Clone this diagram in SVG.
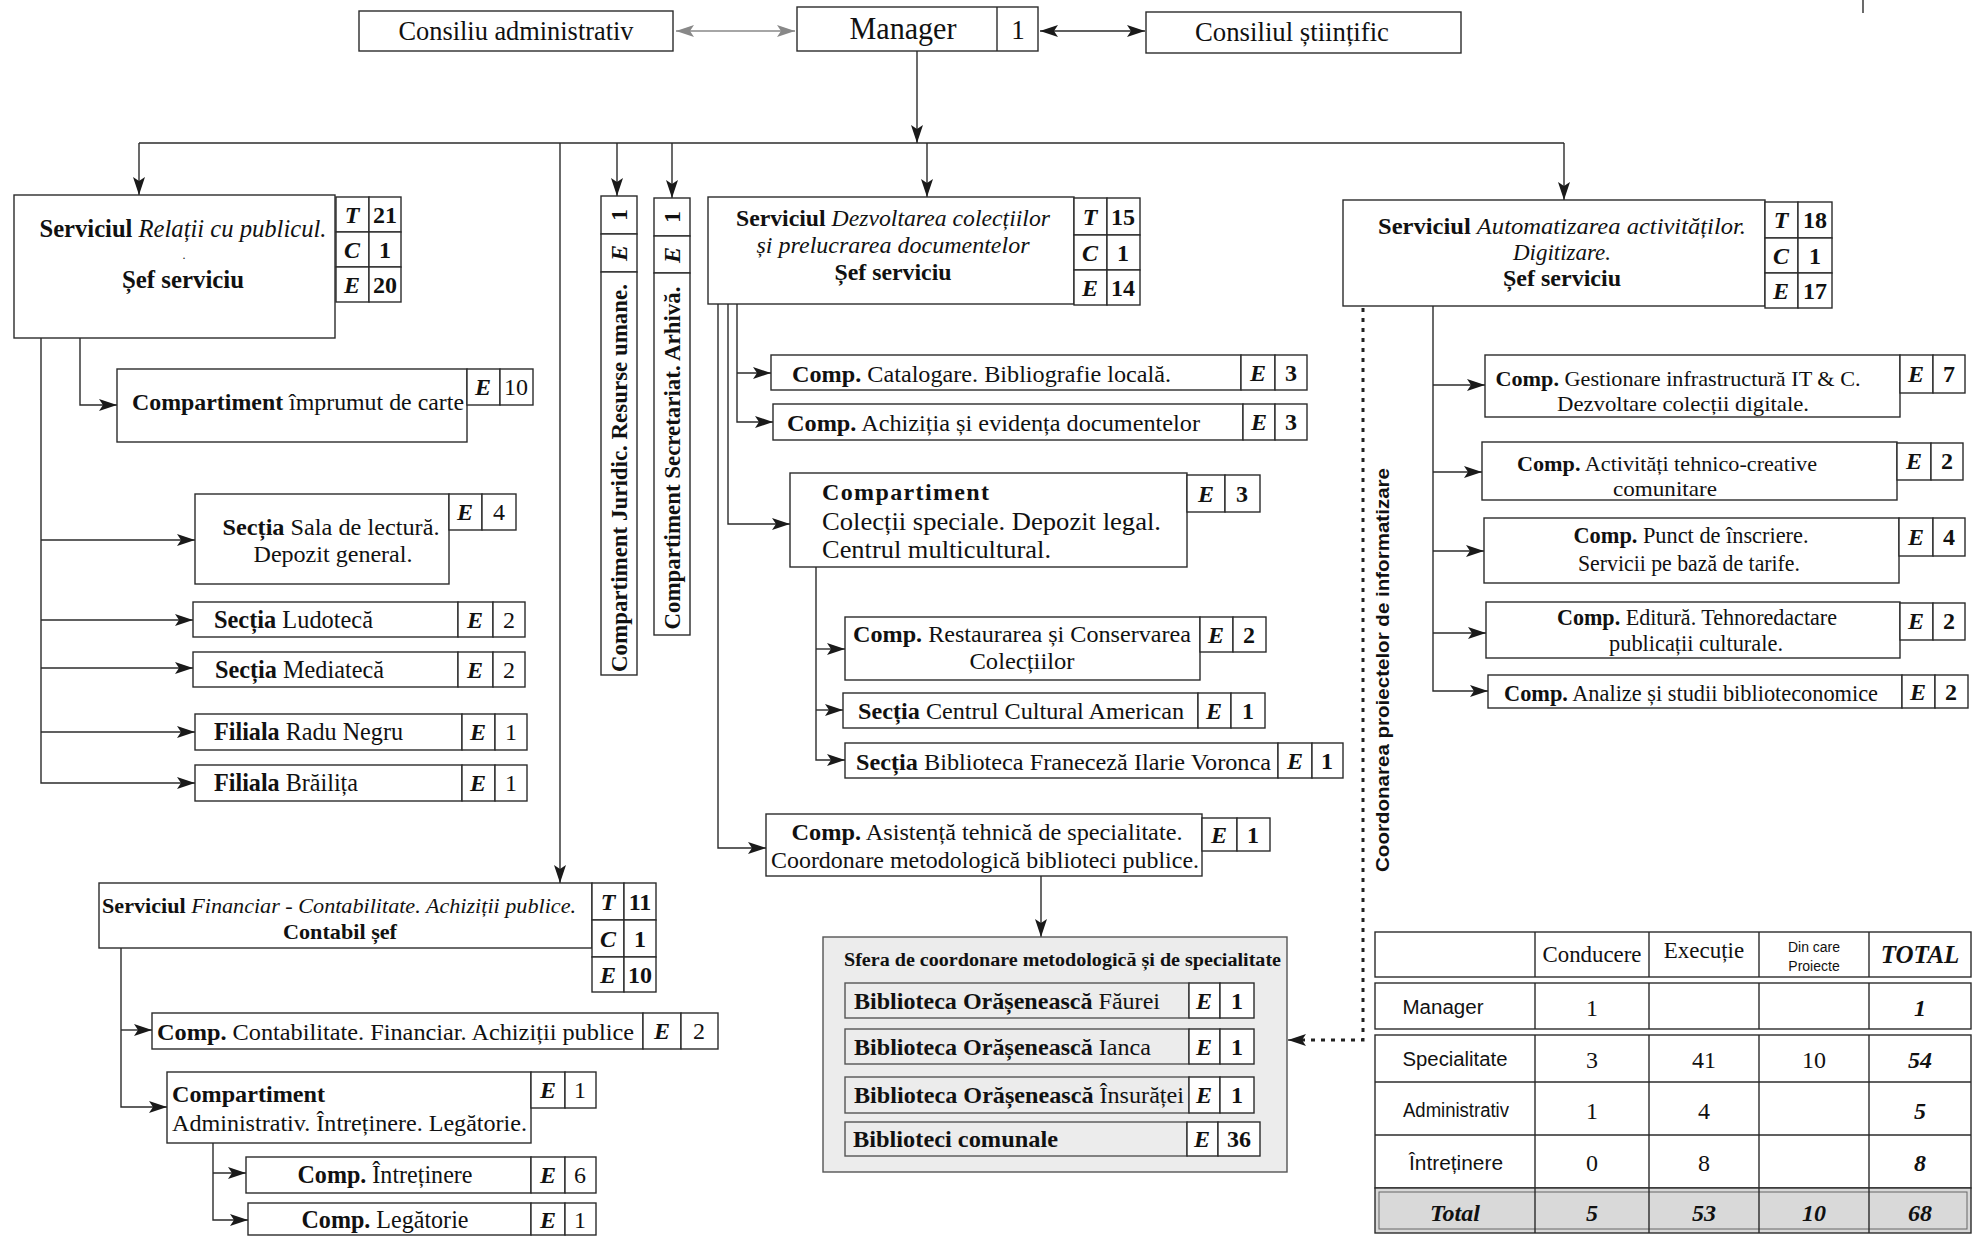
<svg xmlns="http://www.w3.org/2000/svg" width="1982" height="1236" viewBox="0 0 1982 1236">
<style>
.b{fill:#fff;stroke:#2b2b2b;stroke-width:1.4}
.g{fill:#ececec;stroke:#555;stroke-width:1.4}
.ln{fill:none;stroke:#2b2b2b;stroke-width:1.4}
.dot{fill:none;stroke:#222;stroke-width:3;stroke-dasharray:4 6}
text{font-family:"Liberation Serif","Times New Roman",serif;font-size:24px;fill:#111}
.bd{font-weight:bold}
.it{font-style:italic}
.c{font-weight:bold;font-style:italic;text-anchor:middle}
.n{text-anchor:middle}
.nb{text-anchor:middle;font-weight:bold}
.sans{font-family:"Liberation Sans",Arial,sans-serif;font-size:19px}
</style>
<defs>
<marker id="ah" viewBox="0 0 18 12" refX="18" refY="6" markerWidth="18" markerHeight="12" markerUnits="userSpaceOnUse" orient="auto-start-reverse"><path d="M0,0 L18,6 L0,12 L4,6 z" fill="#1a1a1a"/></marker>
<marker id="ahg" viewBox="0 0 18 12" refX="18" refY="6" markerWidth="18" markerHeight="12" markerUnits="userSpaceOnUse" orient="auto-start-reverse"><path d="M0,0 L18,6 L0,12 L4,6 z" fill="#888"/></marker>
</defs>
<rect width="1982" height="1236" fill="#fff"/>
<line x1="1863" y1="0" x2="1863" y2="13" class="ln"/>

<g id="connectors">
<line x1="676" y1="31" x2="795" y2="31" stroke="#888" stroke-width="1.6" marker-start="url(#ahg)" marker-end="url(#ahg)"/>
<line x1="1040" y1="31" x2="1145" y2="31" class="ln" marker-start="url(#ah)" marker-end="url(#ah)"/>
<line x1="917" y1="51" x2="917" y2="143" class="ln" marker-end="url(#ah)"/>
<line x1="139" y1="143" x2="1564" y2="143" class="ln"/>
<line x1="139" y1="143" x2="139" y2="195" class="ln" marker-end="url(#ah)"/>
<line x1="560" y1="143" x2="560" y2="883" class="ln" marker-end="url(#ah)"/>
<line x1="617" y1="143" x2="617" y2="196" class="ln" marker-end="url(#ah)"/>
<line x1="672" y1="143" x2="672" y2="198" class="ln" marker-end="url(#ah)"/>
<line x1="927" y1="143" x2="927" y2="197" class="ln" marker-end="url(#ah)"/>
<line x1="1564" y1="143" x2="1564" y2="200" class="ln" marker-end="url(#ah)"/>
<path d="M80,338 V405 H117" class="ln" marker-end="url(#ah)"/>
<path d="M41,338 V783 H195" class="ln" marker-end="url(#ah)"/>
<line x1="41" y1="540" x2="195" y2="540" class="ln" marker-end="url(#ah)"/>
<line x1="41" y1="620" x2="193" y2="620" class="ln" marker-end="url(#ah)"/>
<line x1="41" y1="668" x2="193" y2="668" class="ln" marker-end="url(#ah)"/>
<line x1="41" y1="732" x2="195" y2="732" class="ln" marker-end="url(#ah)"/>
<path d="M737,304 V422 H773" class="ln" marker-end="url(#ah)"/>
<line x1="737" y1="373" x2="771" y2="373" class="ln" marker-end="url(#ah)"/>
<path d="M728,304 V524 H790" class="ln" marker-end="url(#ah)"/>
<path d="M718,304 V848 H766" class="ln" marker-end="url(#ah)"/>
<path d="M816,567 V760 H845" class="ln" marker-end="url(#ah)"/>
<line x1="816" y1="649" x2="845" y2="649" class="ln" marker-end="url(#ah)"/>
<line x1="816" y1="710" x2="843" y2="710" class="ln" marker-end="url(#ah)"/>
<line x1="1041" y1="876" x2="1041" y2="937" class="ln" marker-end="url(#ah)"/>
<path d="M1433,306 V691 H1488" class="ln" marker-end="url(#ah)"/>
<line x1="1433" y1="385" x2="1485" y2="385" class="ln" marker-end="url(#ah)"/>
<line x1="1433" y1="472" x2="1482" y2="472" class="ln" marker-end="url(#ah)"/>
<line x1="1433" y1="551" x2="1484" y2="551" class="ln" marker-end="url(#ah)"/>
<line x1="1433" y1="633" x2="1486" y2="633" class="ln" marker-end="url(#ah)"/>
<path d="M1363,308 V1040 H1300" class="dot"/>
<line x1="1302" y1="1040" x2="1288" y2="1040" class="ln" marker-end="url(#ah)"/>
<path d="M121,948 V1107 H167" class="ln" marker-end="url(#ah)"/>
<line x1="121" y1="1030" x2="152" y2="1030" class="ln" marker-end="url(#ah)"/>
<path d="M213,1143 V1220 H248" class="ln" marker-end="url(#ah)"/>
<line x1="213" y1="1173" x2="246" y2="1173" class="ln" marker-end="url(#ah)"/>
<text transform="translate(1389,670) rotate(-90)" class="nb" style="font-family:'Liberation Sans',Arial,sans-serif;font-size:19px" textLength="404" lengthAdjust="spacingAndGlyphs">Coordonarea proiectelor de informatizare</text>
</g>

<g id="consiliu-administrativ">
<rect x="359" y="11" width="314" height="40" class="b"/>
<text x="516" y="40" class="n" style="font-size:27px" textLength="235" lengthAdjust="spacingAndGlyphs">Consiliu administrativ</text>
</g>
<g id="manager">
<rect x="797" y="7" width="241" height="44" class="b"/>
<line x1="997" y1="7" x2="997" y2="51" class="ln"/>
<text x="903" y="39" class="n" style="font-size:31px" textLength="107" lengthAdjust="spacingAndGlyphs">Manager</text>
<text x="1018" y="39" class="n" style="font-size:27px">1</text>
</g>
<g id="consiliul-stiintific">
<rect x="1146" y="12" width="315" height="41" class="b"/>
<text x="1292" y="41" class="n" style="font-size:27px" textLength="194" lengthAdjust="spacingAndGlyphs">Consiliul științific</text>
</g>

<g id="relatii">
<rect x="14" y="195" width="321" height="143" class="b"/>
<text x="183" y="237" class="n" style="font-size:25px" textLength="287" lengthAdjust="spacingAndGlyphs"><tspan class="bd">Serviciul</tspan> <tspan class="it">Relații cu publicul.</tspan></text>
<text x="184" y="259" class="n" style="font-size:12px">.</text>
<text x="183" y="288" class="nb" style="font-size:25px" textLength="122" lengthAdjust="spacingAndGlyphs">Șef serviciu</text>
<rect x="336" y="197" width="33" height="35" class="b"/><rect x="369" y="197" width="32" height="35" class="b"/>
<rect x="336" y="232" width="33" height="35" class="b"/><rect x="369" y="232" width="32" height="35" class="b"/>
<rect x="336" y="267" width="33" height="35" class="b"/><rect x="369" y="267" width="32" height="35" class="b"/>
<text x="352" y="223" class="c">T</text><text x="385" y="223" class="nb">21</text>
<text x="352" y="258" class="c">C</text><text x="385" y="258" class="nb">1</text>
<text x="352" y="293" class="c">E</text><text x="385" y="293" class="nb">20</text>
</g>
<g id="imprumut">
<rect x="117" y="369" width="350" height="73" class="b"/>
<rect x="467" y="369" width="33" height="36" class="b"/><rect x="500" y="369" width="33" height="36" class="b"/>
<text x="483" y="395" class="c">E</text><text x="516" y="395" class="n">10</text>
<text x="132" y="410" style="font-size:23px" textLength="332" lengthAdjust="spacingAndGlyphs"><tspan class="bd">Compartiment</tspan> împrumut de carte</text>
</g>
<g id="sala-lectura">
<rect x="195" y="494" width="254" height="90" class="b"/>
<rect x="449" y="494" width="33" height="36" class="b"/><rect x="482" y="494" width="34" height="36" class="b"/>
<text x="465" y="520" class="c">E</text><text x="499" y="520" class="n">4</text>
<text x="331" y="535" class="n" style="font-size:24px" textLength="217" lengthAdjust="spacingAndGlyphs"><tspan class="bd">Secția</tspan> Sala de lectură.</text>
<text x="333" y="562" class="n" style="font-size:24px" textLength="159" lengthAdjust="spacingAndGlyphs">Depozit general.</text>
</g>
<g id="ludoteca">
<rect x="193" y="602" width="265" height="35" class="b"/>
<rect x="458" y="602" width="35" height="35" class="b"/><rect x="493" y="602" width="32" height="35" class="b"/>
<text x="475" y="628" class="c">E</text><text x="509" y="628" class="n">2</text>
<text x="214" y="628" style="font-size:25px" textLength="159" lengthAdjust="spacingAndGlyphs"><tspan class="bd">Secția</tspan> Ludotecă</text>
</g>
<g id="mediateca">
<rect x="193" y="652" width="265" height="35" class="b"/>
<rect x="458" y="652" width="35" height="35" class="b"/><rect x="493" y="652" width="32" height="35" class="b"/>
<text x="475" y="678" class="c">E</text><text x="509" y="678" class="n">2</text>
<text x="215" y="678" style="font-size:25px" textLength="169" lengthAdjust="spacingAndGlyphs"><tspan class="bd">Secția</tspan> Mediatecă</text>
</g>
<g id="radu-negru">
<rect x="195" y="714" width="267" height="36" class="b"/>
<rect x="462" y="714" width="33" height="36" class="b"/><rect x="495" y="714" width="32" height="36" class="b"/>
<text x="478" y="740" class="c">E</text><text x="511" y="740" class="n">1</text>
<text x="214" y="740" style="font-size:25px" textLength="189" lengthAdjust="spacingAndGlyphs"><tspan class="bd">Filiala</tspan> Radu Negru</text>
</g>
<g id="brailita">
<rect x="195" y="765" width="267" height="36" class="b"/>
<rect x="462" y="765" width="33" height="36" class="b"/><rect x="495" y="765" width="32" height="36" class="b"/>
<text x="478" y="791" class="c">E</text><text x="511" y="791" class="n">1</text>
<text x="214" y="791" style="font-size:25px" textLength="144" lengthAdjust="spacingAndGlyphs"><tspan class="bd">Filiala</tspan> Brăilița</text>
</g>

<g id="juridic">
<rect x="601" y="196" width="36" height="38" class="b"/>
<rect x="601" y="234" width="36" height="38" class="b"/>
<rect x="601" y="272" width="36" height="403" class="b"/>
<text transform="translate(627,215) rotate(-90)" class="nb">1</text>
<text transform="translate(627,253) rotate(-90)" class="c">E</text>
<text transform="translate(627,478) rotate(-90)" class="nb" style="font-size:23px" textLength="388" lengthAdjust="spacingAndGlyphs">Compartiment Juridic. Resurse umane.</text>
</g>
<g id="secretariat">
<rect x="654" y="198" width="36" height="38" class="b"/>
<rect x="654" y="236" width="36" height="37" class="b"/>
<rect x="654" y="273" width="36" height="362" class="b"/>
<text transform="translate(680,217) rotate(-90)" class="nb">1</text>
<text transform="translate(680,255) rotate(-90)" class="c">E</text>
<text transform="translate(680,458) rotate(-90)" class="nb" style="font-size:23px" textLength="343" lengthAdjust="spacingAndGlyphs">Compartiment Secretariat. Arhivă.</text>
</g>

<g id="dezvoltarea">
<rect x="708" y="197" width="366" height="107" class="b"/>
<rect x="1074" y="198" width="33" height="37" class="b"/><rect x="1107" y="198" width="33" height="37" class="b"/>
<rect x="1074" y="235" width="33" height="35" class="b"/><rect x="1107" y="235" width="33" height="35" class="b"/>
<rect x="1074" y="270" width="33" height="35" class="b"/><rect x="1107" y="270" width="33" height="35" class="b"/>
<text x="1090" y="225" class="c">T</text><text x="1123" y="225" class="nb">15</text>
<text x="1090" y="261" class="c">C</text><text x="1123" y="261" class="nb">1</text>
<text x="1090" y="296" class="c">E</text><text x="1123" y="296" class="nb">14</text>
<text x="893" y="226" class="n" style="font-size:23px" textLength="314" lengthAdjust="spacingAndGlyphs"><tspan class="bd">Serviciul</tspan> <tspan class="it">Dezvoltarea colecțiilor</tspan></text>
<text x="893" y="253" class="n it" style="font-size:23px" textLength="273" lengthAdjust="spacingAndGlyphs">și prelucrarea documentelor</text>
<text x="893" y="280" class="nb" style="font-size:23px" textLength="117" lengthAdjust="spacingAndGlyphs">Șef serviciu</text>
</g>
<g id="catalogare">
<rect x="771" y="355" width="470" height="35" class="b"/>
<rect x="1241" y="355" width="34" height="35" class="b"/><rect x="1275" y="355" width="32" height="35" class="b"/>
<text x="1258" y="381" class="c">E</text><text x="1291" y="381" class="nb">3</text>
<text x="792" y="382" style="font-size:24px" textLength="379" lengthAdjust="spacingAndGlyphs"><tspan class="bd">Comp.</tspan> Catalogare. Bibliografie locală.</text>
</g>
<g id="achizitia">
<rect x="773" y="404" width="470" height="36" class="b"/>
<rect x="1243" y="404" width="32" height="36" class="b"/><rect x="1275" y="404" width="32" height="36" class="b"/>
<text x="1259" y="430" class="c">E</text><text x="1291" y="430" class="nb">3</text>
<text x="787" y="431" style="font-size:24px" textLength="413" lengthAdjust="spacingAndGlyphs"><tspan class="bd">Comp.</tspan> Achiziția și evidența documentelor</text>
</g>
<g id="colectii-speciale">
<rect x="790" y="473" width="397" height="94" class="b"/>
<rect x="1187" y="475" width="38" height="37" class="b"/><rect x="1225" y="475" width="35" height="37" class="b"/>
<text x="1206" y="502" class="c">E</text><text x="1242" y="502" class="nb">3</text>
<text x="822" y="500" class="bd" style="font-size:24px" textLength="167" lengthAdjust="spacing">Compartiment</text>
<text x="822" y="530" style="font-size:25px" textLength="339" lengthAdjust="spacingAndGlyphs">Colecții speciale. Depozit legal.</text>
<text x="822" y="558" style="font-size:25px" textLength="229" lengthAdjust="spacingAndGlyphs">Centrul multicultural.</text>
</g>
<g id="restaurarea">
<rect x="845" y="617" width="355" height="63" class="b"/>
<rect x="1200" y="617" width="33" height="35" class="b"/><rect x="1233" y="617" width="33" height="35" class="b"/>
<text x="1216" y="643" class="c">E</text><text x="1249" y="643" class="nb">2</text>
<text x="853" y="642" style="font-size:23px" textLength="338" lengthAdjust="spacingAndGlyphs"><tspan class="bd">Comp.</tspan> Restaurarea și Conservarea</text>
<text x="1022" y="669" class="n" style="font-size:23px" textLength="105" lengthAdjust="spacingAndGlyphs">Colecțiilor</text>
</g>
<g id="centrul-american">
<rect x="843" y="693" width="355" height="35" class="b"/>
<rect x="1198" y="693" width="33" height="35" class="b"/><rect x="1231" y="693" width="34" height="35" class="b"/>
<text x="1214" y="719" class="c">E</text><text x="1248" y="719" class="nb">1</text>
<text x="858" y="719" style="font-size:23px" textLength="326" lengthAdjust="spacingAndGlyphs"><tspan class="bd">Secția</tspan> Centrul Cultural American</text>
</g>
<g id="biblioteca-franceza">
<rect x="845" y="743" width="433" height="35" class="b"/>
<rect x="1278" y="743" width="34" height="35" class="b"/><rect x="1312" y="743" width="31" height="35" class="b"/>
<text x="1295" y="769" class="c">E</text><text x="1327" y="769" class="nb">1</text>
<text x="856" y="770" style="font-size:23px" textLength="415" lengthAdjust="spacingAndGlyphs"><tspan class="bd">Secția</tspan> Biblioteca Franeceză Ilarie Voronca</text>
</g>
<g id="asistenta">
<rect x="766" y="814" width="436" height="62" class="b"/>
<rect x="1202" y="818" width="35" height="33" class="b"/><rect x="1237" y="818" width="33" height="33" class="b"/>
<text x="1219" y="843" class="c">E</text><text x="1253" y="843" class="nb">1</text>
<text x="987" y="840" class="n" style="font-size:23px" textLength="391" lengthAdjust="spacingAndGlyphs"><tspan class="bd">Comp.</tspan> Asistență tehnică de specialitate.</text>
<text x="985" y="868" class="n" style="font-size:23px" textLength="428" lengthAdjust="spacingAndGlyphs">Coordonare metodologică biblioteci publice.</text>
</g>

<g id="sfera">
<rect x="823" y="937" width="464" height="235" class="g"/>
<text x="844" y="966" class="bd" style="font-size:18px" textLength="437" lengthAdjust="spacingAndGlyphs">Sfera de coordonare metodologică și de specialitate</text>
<rect x="845" y="983" width="344" height="35" class="g"/>
<rect x="1189" y="983" width="31" height="35" class="b"/><rect x="1220" y="983" width="34" height="35" class="b"/>
<text x="854" y="1009" style="font-size:23px" textLength="306" lengthAdjust="spacingAndGlyphs"><tspan class="bd">Biblioteca Orășenească</tspan> Făurei</text>
<text x="1204" y="1009" class="c">E</text><text x="1237" y="1009" class="nb">1</text>
<rect x="845" y="1029" width="344" height="35" class="g"/>
<rect x="1189" y="1029" width="31" height="35" class="b"/><rect x="1220" y="1029" width="34" height="35" class="b"/>
<text x="854" y="1055" style="font-size:23px" textLength="297" lengthAdjust="spacingAndGlyphs"><tspan class="bd">Biblioteca Orășenească</tspan> Ianca</text>
<text x="1204" y="1055" class="c">E</text><text x="1237" y="1055" class="nb">1</text>
<rect x="845" y="1077" width="344" height="36" class="g"/>
<rect x="1189" y="1077" width="31" height="36" class="b"/><rect x="1220" y="1077" width="34" height="36" class="b"/>
<text x="854" y="1103" style="font-size:23px" textLength="330" lengthAdjust="spacingAndGlyphs"><tspan class="bd">Biblioteca Orășenească</tspan> Însurăței</text>
<text x="1204" y="1103" class="c">E</text><text x="1237" y="1103" class="nb">1</text>
<rect x="845" y="1122" width="342" height="34" class="g"/>
<rect x="1187" y="1122" width="31" height="34" class="b"/><rect x="1218" y="1122" width="42" height="34" class="b"/>
<text x="853" y="1147" class="bd" style="font-size:24px" textLength="205" lengthAdjust="spacingAndGlyphs">Biblioteci comunale</text>
<text x="1202" y="1147" class="c">E</text><text x="1239" y="1147" class="nb">36</text>
</g>

<g id="automatizarea">
<rect x="1343" y="200" width="422" height="106" class="b"/>
<rect x="1765" y="202" width="33" height="36" class="b"/><rect x="1798" y="202" width="34" height="36" class="b"/>
<rect x="1765" y="238" width="33" height="35" class="b"/><rect x="1798" y="238" width="34" height="35" class="b"/>
<rect x="1765" y="273" width="33" height="35" class="b"/><rect x="1798" y="273" width="34" height="35" class="b"/>
<text x="1781" y="228" class="c">T</text><text x="1815" y="228" class="nb">18</text>
<text x="1781" y="264" class="c">C</text><text x="1815" y="264" class="nb">1</text>
<text x="1781" y="299" class="c">E</text><text x="1815" y="299" class="nb">17</text>
<text x="1562" y="234" class="n" style="font-size:23px" textLength="368" lengthAdjust="spacingAndGlyphs"><tspan class="bd">Serviciul</tspan> <tspan class="it">Automatizarea activităților.</tspan></text>
<text x="1562" y="260" class="n it" style="font-size:23px">Digitizare.</text>
<text x="1562" y="286" class="nb" style="font-size:23px" textLength="118" lengthAdjust="spacingAndGlyphs">Șef serviciu</text>
</g>
<g id="gestionare">
<rect x="1485" y="355" width="415" height="62" class="b"/>
<rect x="1900" y="355" width="33" height="38" class="b"/><rect x="1933" y="355" width="32" height="38" class="b"/>
<text x="1916" y="382" class="c">E</text><text x="1949" y="382" class="nb">7</text>
<text x="1678" y="386" class="n" style="font-size:22px" textLength="365" lengthAdjust="spacingAndGlyphs"><tspan class="bd">Comp.</tspan> Gestionare infrastructură IT &amp; C.</text>
<text x="1683" y="411" class="n" style="font-size:22px" textLength="252" lengthAdjust="spacingAndGlyphs">Dezvoltare colecții digitale.</text>
</g>
<g id="activitati">
<rect x="1482" y="442" width="415" height="58" class="b"/>
<rect x="1897" y="443" width="34" height="37" class="b"/><rect x="1931" y="443" width="32" height="37" class="b"/>
<text x="1914" y="469" class="c">E</text><text x="1947" y="469" class="nb">2</text>
<text x="1667" y="471" class="n" style="font-size:22px" textLength="300" lengthAdjust="spacingAndGlyphs"><tspan class="bd">Comp.</tspan> Activități tehnico-creative</text>
<text x="1665" y="496" class="n" style="font-size:22px" textLength="104" lengthAdjust="spacingAndGlyphs">comunitare</text>
</g>
<g id="punct-inscriere">
<rect x="1484" y="518" width="415" height="65" class="b"/>
<rect x="1899" y="518" width="34" height="38" class="b"/><rect x="1933" y="518" width="32" height="38" class="b"/>
<text x="1916" y="545" class="c">E</text><text x="1949" y="545" class="nb">4</text>
<text x="1691" y="543" class="n" style="font-size:24px" textLength="235" lengthAdjust="spacingAndGlyphs"><tspan class="bd">Comp.</tspan> Punct de înscriere.</text>
<text x="1689" y="571" class="n" style="font-size:24px" textLength="222" lengthAdjust="spacingAndGlyphs">Servicii pe bază de tarife.</text>
</g>
<g id="editura">
<rect x="1486" y="602" width="414" height="56" class="b"/>
<rect x="1900" y="603" width="33" height="37" class="b"/><rect x="1933" y="603" width="32" height="37" class="b"/>
<text x="1916" y="629" class="c">E</text><text x="1949" y="629" class="nb">2</text>
<text x="1697" y="625" class="n" style="font-size:23px" textLength="280" lengthAdjust="spacingAndGlyphs"><tspan class="bd">Comp.</tspan> Editură. Tehnoredactare</text>
<text x="1696" y="651" class="n" style="font-size:23px" textLength="174" lengthAdjust="spacingAndGlyphs">publicații culturale.</text>
</g>
<g id="analize">
<rect x="1488" y="675" width="414" height="33" class="b"/>
<rect x="1902" y="675" width="33" height="33" class="b"/><rect x="1935" y="675" width="33" height="33" class="b"/>
<text x="1918" y="700" class="c">E</text><text x="1951" y="700" class="nb">2</text>
<text x="1504" y="701" style="font-size:23px" textLength="374" lengthAdjust="spacingAndGlyphs"><tspan class="bd">Comp.</tspan> Analize și studii biblioteconomice</text>
</g>

<g id="financiar">
<rect x="99" y="883" width="493" height="65" class="b"/>
<rect x="592" y="883" width="32" height="37" class="b"/><rect x="624" y="883" width="32" height="37" class="b"/>
<rect x="592" y="920" width="32" height="37" class="b"/><rect x="624" y="920" width="32" height="37" class="b"/>
<rect x="592" y="957" width="32" height="35" class="b"/><rect x="624" y="957" width="32" height="35" class="b"/>
<text x="608" y="910" class="c">T</text><text x="640" y="910" class="nb">11</text>
<text x="608" y="947" class="c">C</text><text x="640" y="947" class="nb">1</text>
<text x="608" y="983" class="c">E</text><text x="640" y="983" class="nb">10</text>
<text x="102" y="913" style="font-size:20px" textLength="474" lengthAdjust="spacingAndGlyphs"><tspan class="bd">Serviciul</tspan> <tspan class="it">Financiar - Contabilitate. Achiziții publice.</tspan></text>
<text x="340" y="939" class="nb" style="font-size:22px" textLength="114" lengthAdjust="spacingAndGlyphs">Contabil șef</text>
</g>
<g id="contabilitate">
<rect x="152" y="1013" width="491" height="36" class="b"/>
<rect x="643" y="1013" width="38" height="36" class="b"/><rect x="681" y="1013" width="37" height="36" class="b"/>
<text x="662" y="1039" class="c">E</text><text x="699" y="1039" class="n">2</text>
<text x="157" y="1040" style="font-size:23px" textLength="477" lengthAdjust="spacingAndGlyphs"><tspan class="bd">Comp.</tspan> Contabilitate. Financiar. Achiziții publice</text>
</g>
<g id="administrativ">
<rect x="167" y="1072" width="364" height="71" class="b"/>
<rect x="531" y="1072" width="34" height="36" class="b"/><rect x="565" y="1072" width="31" height="36" class="b"/>
<text x="548" y="1098" class="c">E</text><text x="580" y="1098" class="n">1</text>
<text x="172" y="1102" class="bd" style="font-size:24px" textLength="153" lengthAdjust="spacingAndGlyphs">Compartiment</text>
<text x="172" y="1131" style="font-size:24px" textLength="355" lengthAdjust="spacingAndGlyphs">Administrativ. Întreținere. Legătorie.</text>
</g>
<g id="intretinere">
<rect x="246" y="1157" width="285" height="36" class="b"/>
<rect x="531" y="1157" width="34" height="36" class="b"/><rect x="565" y="1157" width="31" height="36" class="b"/>
<text x="548" y="1183" class="c">E</text><text x="580" y="1183" class="n">6</text>
<text x="385" y="1183" class="n" style="font-size:25px" textLength="175" lengthAdjust="spacingAndGlyphs"><tspan class="bd">Comp.</tspan> Întreținere</text>
</g>
<g id="legatorie">
<rect x="248" y="1203" width="283" height="32" class="b"/>
<rect x="531" y="1203" width="34" height="32" class="b"/><rect x="565" y="1203" width="31" height="32" class="b"/>
<text x="548" y="1228" class="c">E</text><text x="580" y="1228" class="n">1</text>
<text x="385" y="1228" class="n" style="font-size:25px" textLength="167" lengthAdjust="spacingAndGlyphs"><tspan class="bd">Comp.</tspan> Legătorie</text>
</g>

<g id="tabel">
<rect x="1375" y="932" width="596" height="45" class="b"/>
<rect x="1375" y="983" width="596" height="46" class="b"/>
<rect x="1375" y="1035" width="596" height="153" class="b"/>
<rect x="1375" y="1188" width="596" height="45" fill="#d9d9d9" stroke="#2b2b2b" stroke-width="1.4"/>
<rect x="1379" y="1192" width="588" height="37" fill="none" stroke="#666" stroke-width="1"/>
<line x1="1375" y1="1082" x2="1971" y2="1082" class="ln"/>
<line x1="1375" y1="1135" x2="1971" y2="1135" class="ln"/>
<path d="M1535,932 V977 M1649,932 V977 M1759,932 V977 M1869,932 V977 M1535,983 V1029 M1649,983 V1029 M1759,983 V1029 M1869,983 V1029 M1535,1035 V1233 M1649,1035 V1233 M1759,1035 V1233 M1869,1035 V1233" class="ln"/>
<text x="1592" y="962" class="n" style="font-size:23px" textLength="99" lengthAdjust="spacingAndGlyphs">Conducere</text>
<text x="1704" y="958" class="n" style="font-size:23px">Execuție</text>
<text x="1814" y="952" class="n sans" style="font-size:14px">Din care</text>
<text x="1814" y="971" class="n sans" style="font-size:14px">Proiecte</text>
<text x="1920" y="963" class="c" style="font-size:25px">TOTAL</text>
<text x="1443" y="1014" class="n sans" style="font-size:20px" textLength="81" lengthAdjust="spacingAndGlyphs">Manager</text>
<text x="1455" y="1066" class="n sans" style="font-size:20px" textLength="105" lengthAdjust="spacingAndGlyphs">Specialitate</text>
<text x="1456" y="1117" class="n sans" style="font-size:20px" textLength="106" lengthAdjust="spacingAndGlyphs">Administrativ</text>
<text x="1456" y="1170" class="n sans" style="font-size:20px" textLength="94" lengthAdjust="spacingAndGlyphs">Întreținere</text>
<text x="1592" y="1016" class="n">1</text>
<text x="1920" y="1016" class="c">1</text>
<text x="1592" y="1068" class="n">3</text><text x="1704" y="1068" class="n">41</text><text x="1814" y="1068" class="n">10</text><text x="1920" y="1068" class="c">54</text>
<text x="1592" y="1119" class="n">1</text><text x="1704" y="1119" class="n">4</text><text x="1920" y="1119" class="c">5</text>
<text x="1592" y="1171" class="n">0</text><text x="1704" y="1171" class="n">8</text><text x="1920" y="1171" class="c">8</text>
<text x="1455" y="1221" class="c">Total</text><text x="1592" y="1221" class="c">5</text><text x="1704" y="1221" class="c">53</text><text x="1814" y="1221" class="c">10</text><text x="1920" y="1221" class="c">68</text>
</g>
</svg>
